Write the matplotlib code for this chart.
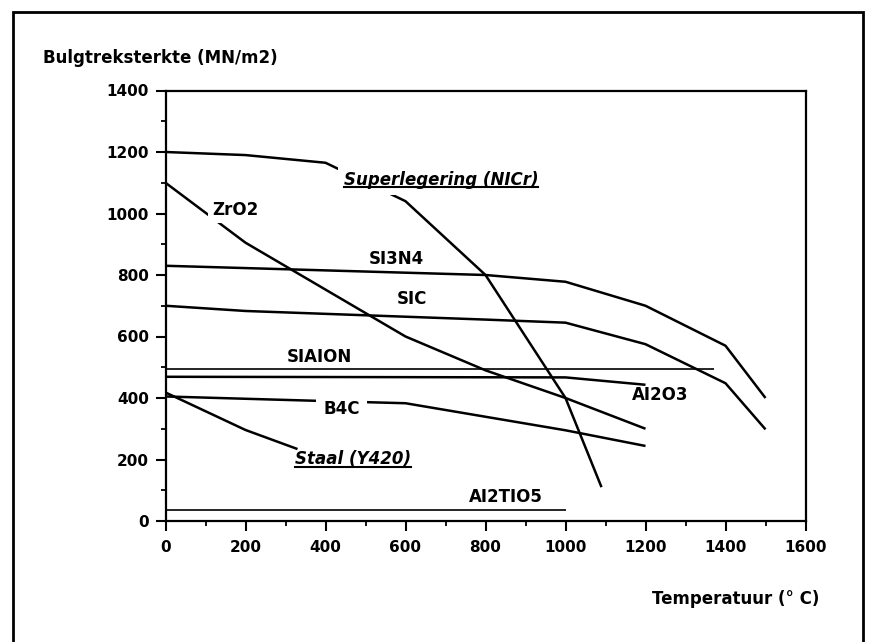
import matplotlib
matplotlib.use("Agg")
import matplotlib.pyplot as plt
from matplotlib.patches import Rectangle
from matplotlib.lines import Line2D
from matplotlib.ticker import MultipleLocator

plt.rcParams['font.family'] = ['DejaVu Sans']

# ---- data (temperature in deg C, strength in MN/m2) ----
super_T = [0, 200, 400, 600, 800, 1000, 1090]
super_V = [1200, 1190, 1165, 1040, 800, 400, 110]

zro2_T = [0, 200, 600, 800, 1000, 1200]
zro2_V = [1100, 905, 600, 490, 400, 300]

si3n4_T = [0, 400, 800, 1000, 1200, 1400, 1500]
si3n4_V = [830, 815, 800, 778, 700, 570, 400]

sic_T = [0, 200, 800, 1000, 1200, 1400, 1500]
sic_V = [700, 683, 655, 645, 575, 448, 298]

sialon_T = [0, 1370]
sialon_V = [494, 494]

al2o3_T = [0, 1000, 1200]
al2o3_V = [469, 467, 443]

b4c_T = [0, 400, 600, 1000, 1200]
b4c_V = [405, 390, 383, 295, 244]

staal_T = [0, 200, 330]
staal_V = [418, 296, 234]

al2tio5_T = [0, 1000]
al2tio5_V = [35, 35]

x_ticks = [0, 200, 400, 600, 800, 1000, 1200, 1400, 1600]
y_ticks = [0, 200, 400, 600, 800, 1000, 1200, 1400]

W, H = 869, 642
fig = plt.figure(figsize=(W / 100, H / 100), dpi=100)
ax = fig.add_axes([165.5 / W, 1 - 521 / H, (805.5 - 165.5) / W, (521 - 90.5) / H])

lw = 1.8
thin = 1.2
for T, V, w in [(super_T, super_V, lw), (zro2_T, zro2_V, lw), (si3n4_T, si3n4_V, lw),
                (sic_T, sic_V, lw), (sialon_T, sialon_V, thin), (al2o3_T, al2o3_V, lw),
                (b4c_T, b4c_V, lw), (staal_T, staal_V, lw), (al2tio5_T, al2tio5_V, thin)]:
    ax.plot(T, V, color='black', lw=w, solid_capstyle='butt', zorder=2)

ax.set_xlim(0, 1600)
ax.set_ylim(0, 1400)
ax.set_xticks(x_ticks)
ax.set_yticks(y_ticks)
ax.xaxis.set_minor_locator(MultipleLocator(100))
ax.yaxis.set_minor_locator(MultipleLocator(100))
ax.tick_params(axis='both', which='major', direction='out', length=7, width=1.5,
               labelsize=11, colors='black')
ax.tick_params(axis='both', which='minor', direction='out', length=3.5, width=1.3)
ax.tick_params(axis='y', which='major', pad=5)
ax.tick_params(axis='x', which='major', pad=7)
for lbl in ax.get_xticklabels() + ax.get_yticklabels():
    lbl.set_fontweight('bold')
for s in ax.spines.values():
    s.set_linewidth(1.6)

lab_fs = 12
fw = 'bold'
wbox = dict(boxstyle='square,pad=0.25', facecolor='white', edgecolor='none')
ax.text(174, 1013, 'ZrO2', fontsize=lab_fs, fontweight=fw, ha='center', va='center',
        bbox=wbox, zorder=3)
ax.text(576, 853, 'SI3N4', fontsize=lab_fs, fontweight=fw, ha='center', va='center', zorder=3)
ax.text(616, 723, 'SIC', fontsize=lab_fs, fontweight=fw, ha='center', va='center', zorder=3)
ax.text(384, 534, 'SIAION', fontsize=lab_fs, fontweight=fw, ha='center', va='center', zorder=3)
ax.text(440, 365, 'B4C', fontsize=lab_fs, fontweight=fw, ha='center', va='center',
        bbox=dict(boxstyle='square,pad=0.45', facecolor='white', edgecolor='none'), zorder=3)
ax.text(851, 79, 'AI2TIO5', fontsize=lab_fs, fontweight=fw, ha='center', va='center', zorder=3)
ax.text(1236, 410, 'AI2O3', fontsize=lab_fs, fontweight=fw, ha='center', va='center', zorder=3)
t_super = ax.text(689, 1093, 'Superlegering (NICr)', fontsize=lab_fs, fontweight=fw,
                  style='italic', ha='center', va='baseline',
                  bbox=dict(boxstyle='square,pad=0.35', facecolor='white', edgecolor='none'),
                  zorder=3)
t_staal = ax.text(468, 185, 'Staal (Y420)', fontsize=lab_fs, fontweight=fw, style='italic',
                  ha='center', va='baseline', zorder=3)

fig.text(43 / W, 1 - 63 / H, 'Bulgtreksterkte (MN/m2)', fontsize=12, fontweight='bold',
         ha='left', va='baseline')
fig.text(736 / W, 1 - 599 / H, 'Temperatuur (° C)', fontsize=12, fontweight='bold',
         ha='center', va='center')

# outer frame
fig.patches.append(Rectangle((12.7 / W, -0.05), (863 - 12.7) / W, 1 - 11.7 / H + 0.05,
                             transform=fig.transFigure, fill=False, edgecolor='black',
                             linewidth=2.0, zorder=5))

# underlines under the italic labels
fig.canvas.draw()
r = fig.canvas.get_renderer()
for t in (t_super, t_staal):
    bb = t.get_window_extent(renderer=r)
    base = ax.transData.transform(t.get_position())[1]
    yl = (base - 2.5) / H
    fig.add_artist(Line2D([bb.x0 / W, bb.x1 / W], [yl, yl], transform=fig.transFigure,
                          color='black', lw=1.5, zorder=4))

fig.savefig('out.png', dpi=100)
